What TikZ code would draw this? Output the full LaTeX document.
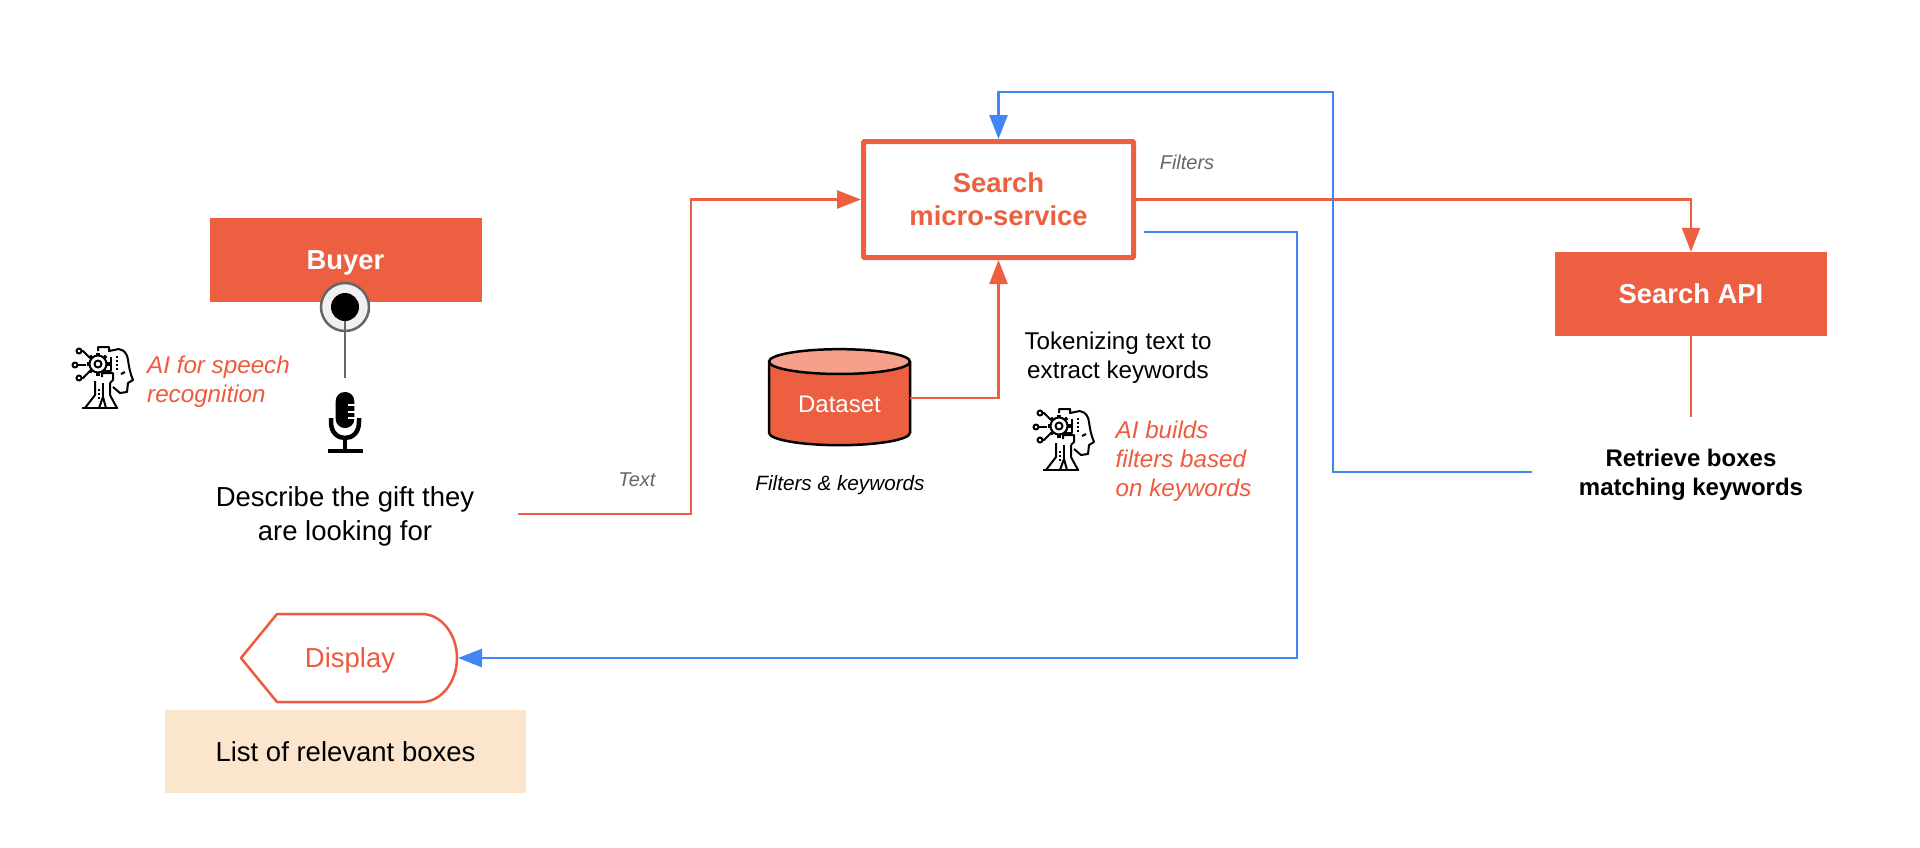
\documentclass[tikz,border=0pt]{standalone}
\usepackage{fontspec}
\setmainfont{Liberation Sans}
\usetikzlibrary{arrows.meta,shapes.geometric}

\definecolor{boxred}{HTML}{EC6041}
\definecolor{textred}{HTML}{F05A3C}
\definecolor{lightred}{HTML}{F6A08C}
\definecolor{linkblue}{HTML}{4285F4}
\definecolor{peach}{HTML}{FCE5CD}
\definecolor{notegray}{HTML}{666666}

\tikzset{
    redbox/.style={fill=boxred,text=white,text depth=0pt,minimum width=272pt,minimum height=84pt,font=\fontsize{27.4}{33}\selectfont\bfseries},
    bodytext/.style={align=center,inner sep=0pt,font=\fontsize{27.5}{33.5}\selectfont},
    smalltext/.style={align=center,inner sep=0pt,font=\fontsize{24.2}{29.5}\selectfont},
    aitext/.style={align=left,anchor=west,inner sep=0pt,text=textred,font=\fontsize{24.2}{28.8}\selectfont\itshape},
    notetext/.style={inner sep=0pt,text=notegray,font=\fontsize{20}{24}\selectfont\itshape},
    redlink/.style={draw=boxred,line width=2.7pt},
    bluelink/.style={draw=linkblue,line width=2.7pt},
    linktip/.style={-{Triangle[length=24pt,width=18pt]}},
    aihead/.pic={
        \begin{scope}[line width=2pt,line join=round]
        \draw (6,4) circle (2.5); % Three contacts
        \draw (2,18) circle (2.5);
        \draw (6,31) circle (2.5);
        \draw (8.5,4) -- (10,4) -- (17,11);
        \draw (4.5,18) -- (13,18);
        \draw (8.5,31) -- (10,31) -- (17,24);
        \draw (25,17) circle (8.5); % Gear
        \draw (25,17) circle (3.5);
        \foreach \a in {0,45,...,315}
            \draw[line width=3.5pt] ({25+8*cos(\a)},{17+8*sin(\a)}) -- ({25+11.5*cos(\a)},{17+11.5*sin(\a)});
        \draw (25,4) -- (25,0) -- (36,0) -- (36,4) -- (41,3);
        \draw (41,3) .. controls (47,0) and (54,4) .. (55,13) .. controls (56,20) and (57,26) .. (60,33) -- (55,36) -- (54,45) -- (47,46) -- (40,40); % Head
        \draw (48,27) -- (52,25);
        \draw[dashed,dash pattern=on 2pt off 2pt] (44,9) -- (44,25);
        \draw (38,10) -- (38,24) -- (34,24);
        \draw (29,30) -- (29,26) -- (40,26) -- (40,33) -- (37,36);
        \draw (22,34) -- (22,48) -- (12,61); % Stand
        \draw (37,36) -- (37,48) -- (44,61);
        \draw (30,50) -- (26,61);
        \draw (30,50) -- (33,61);
        \draw (30,36) -- (30,50);
        \draw[line width=2.4pt] (9,61) -- (45,61);
        \draw[dashed,dash pattern=on 2pt off 2pt] (26,42) -- (26,54);
        \end{scope}
    }
}

\begin{document}
\begin{tikzpicture}[x=1pt,y=-1pt]

    \useasboundingbox (0,0) rectangle (1920,847);

    % Buyer column
    \node[redbox] (buyer) at (345.5,260) {Buyer};
    \node[bodytext] (describe) at (345,516.5) {Describe the gift they\\are looking for};
    \node[aitext] (speech) at (147,381.5) {AI for speech\\recognition};
    \pic at (73,347) {aihead};

    % Handle on the buyer box
    \node[circle,draw=notegray,fill=black!6,line width=2.5pt,minimum size=48pt,inner sep=0pt] (buyerring) at (345,307) {};
    \node[circle,fill=black,minimum size=28pt,inner sep=0pt] (buyerdot) at (345,307) {};
    \coordinate (micstop) at (345,378);
    \draw[notegray,line width=2.5pt] (buyerdot) -- (micstop);

    % Microphone
    \fill[black,rounded corners=9pt] (335.7,392) rectangle (354.3,428);
    \foreach \y in {405,412,418}
        \draw[white,line width=2pt] (347.5,\y) -- (355,\y);
    \draw[black,line width=4.5pt] (331,418) -- (331,422) .. controls (331,433) and (338,438) .. (345,438) .. controls (352,438) and (359,433) .. (359,422) -- (359,418);
    \draw[black,line width=4pt] (345,438) -- (345,451);
    \draw[black,line width=4.5pt] (328,451) -- (363,451);

    % Middle column
    \node[draw=boxred,fill=white,line width=5pt,rounded corners=1pt,minimum width=270pt,minimum height=116pt,text=boxred,align=center,font=\fontsize{27.4}{33}\selectfont\bfseries] (search) at (998.5,199.5) {Search\\micro-service};
    \node[cylinder,shape border rotate=90,aspect=0.3,draw=black,line width=2.5pt,cylinder uses custom fill,cylinder body fill=boxred,cylinder end fill=lightred,minimum width=141pt,minimum height=96pt,inner sep=0pt,text=white,font=\fontsize{24}{29}\selectfont] (dataset) at (839.5,404) {Dataset};
    \node[inner sep=0pt,font=\fontsize{20.7}{25}\selectfont\itshape] (filterwords) at (840,485) {Filters \& keywords};
    \node[smalltext] (token) at (1118,357.5) {Tokenizing text to\\extract keywords};
    \node[aitext] (builds) at (1115.5,461.5) {AI builds\\filters based\\on keywords};
    \pic at (1034,409) {aihead};
    \node[notetext] (textnote) at (637,480) {Text};
    \node[notetext] (filternote) at (1187,162) {Filters};

    % Right column
    \node[redbox] (api) at (1691,294) {Search API};
    \node[inner sep=0pt,align=center,font=\fontsize{24}{29.5}\selectfont\bfseries] (retrieve) at (1691,475) {Retrieve boxes\\matching keywords};

    % Bottom left
    \draw[textred,line width=2.5pt,line join=round] (241,658) -- (277,614) -- (422,614) .. controls (441,614) and (457,634) .. (457,658) .. controls (457,682) and (441,702) .. (422,702) -- (277,702) -- cycle;
    \node[inner sep=0pt,text depth=0pt,text=textred,font=\fontsize{27.5}{33}\selectfont] (display) at (350,658) {Display};
    \node[fill=peach,minimum width=361pt,minimum height=83pt,font=\fontsize{27.5}{33}\selectfont] (boxlist) at (345.5,751.5) {List of relevant boxes};

    % Free ends and corners of the links
    \coordinate (textstart) at (518,514);
    \coordinate (textbend) at (691,514);
    \coordinate (dataout) at (910,398);
    \coordinate (apistop) at (1691,417);
    \coordinate (retrieveout) at (1532,472);
    \coordinate (topbend) at (1333,92);
    \coordinate (searchout) at (1144,232);
    \coordinate (outbend) at (1297,232);
    \coordinate (displayend) at (458,658);

    % Red links
    \draw[redlink,linktip] (textstart) -- (textbend) |- (search.west);
    \draw[redlink,linktip] (dataout) -| (search.south);
    \draw[redlink,linktip,line width=2.2pt] (search.east) -| (api.north);
    \draw[redlink] (api.south) -- (apistop);

    % Blue links
    \draw[bluelink,linktip,linkblue] (retrieveout) -| (topbend) -| (search.north);
    \draw[bluelink,linktip,linkblue] (searchout) -- (outbend) |- (displayend);

\end{tikzpicture}
\end{document}
